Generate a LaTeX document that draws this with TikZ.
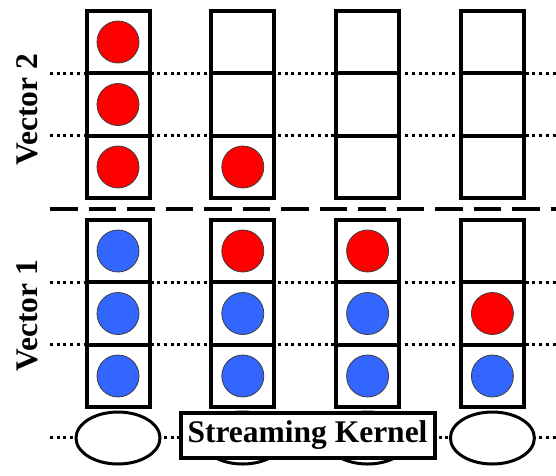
\documentclass[tikz,border=0pt]{standalone}
\usepackage{fontspec}
\setmainfont{Liberation Serif}
\usetikzlibrary{shapes.geometric}
\definecolor{dotred}{RGB}{255,0,0}
\definecolor{dotblue}{RGB}{51,102,255}
\definecolor{rim}{RGB}{60,60,60}
\begin{document}
\begin{tikzpicture}[x=1pt,y=-1pt,
  cell/.style={draw, line width=4pt, fill=white, minimum width=63pt,
    minimum height=62.5pt, inner sep=0pt},
  ball/.style={circle, draw=rim, line width=0.8pt, minimum size=42pt, inner sep=0pt},
  redball/.style={ball, fill=dotred},
  blueball/.style={ball, fill=dotblue},
  guide/.style={line width=3pt, dash pattern=on 3pt off 3.7pt},
  split/.style={line width=4pt, dash pattern=on 27.5pt off 11pt},
  slot/.style={ellipse, draw, line width=3pt, fill=white, minimum width=84pt,
    minimum height=52pt, inner sep=0pt},
  label/.style={font=\bfseries\fontsize{31.5}{34}\selectfont, inner sep=0pt}]
\useasboundingbox (0,0) rectangle (556,475);

% dotted row guides
\foreach \n/\y in {a/73.25,b/135.75,c/282.25,d/344.75,e/437}{
  \coordinate (gl\n) at (50,\y);
  \coordinate (gr\n) at (556,\y);
  \draw[guide] (gl\n) -- (gr\n);
}

% vector cells: t = vector 2, b = vector 1
\foreach \c/\x in {1/118,2/242.8,3/367.6,4/492.4}{
  \foreach \r/\y in {1/42,2/104.5,3/167}{
    \node[cell] (t\c\r) at (\x,\y) {};
  }
  \foreach \r/\y in {1/251,2/313.5,3/376}{
    \node[cell] (b\c\r) at (\x,\y) {};
  }
}

% elements of vector 2
\node[redball] (pt11) at (t11) {};
\node[redball] (pt12) at (t12) {};
\node[redball] (pt13) at (t13) {};
\node[redball] (pt23) at (t23) {};

% elements of vector 1
\node[blueball] (pb11) at (b11) {};
\node[blueball] (pb12) at (b12) {};
\node[blueball] (pb13) at (b13) {};
\node[redball]  (pb21) at (b21) {};
\node[blueball] (pb22) at (b22) {};
\node[blueball] (pb23) at (b23) {};
\node[redball]  (pb31) at (b31) {};
\node[blueball] (pb32) at (b32) {};
\node[blueball] (pb33) at (b33) {};
\node[redball]  (pb42) at (b42) {};
\node[blueball] (pb43) at (b43) {};

% separator between the two vectors
\coordinate (sl) at (50,209);
\coordinate (sr) at (556,209);
\draw[split] (sl) -- (sr);

% labels
\node[label, rotate=90] (v2) at (27,110) {Vector 2};
\node[label, rotate=90] (v1) at (27,316) {Vector 1};

% kernel slots and kernel box
\node[slot] (k1) at (118,438) {};
\node[slot] (k2) at (242.8,438) {};
\node[slot] (k3) at (367.6,438) {};
\node[slot] (k4) at (492.4,438) {};
\node[draw, line width=4pt, fill=white, minimum width=254pt, minimum height=45pt,
  inner sep=0pt, font=\bfseries\fontsize{31.5}{34}\selectfont] (kern) at (307.5,435)
  {Streaming Kernel};
\end{tikzpicture}
\end{document}
